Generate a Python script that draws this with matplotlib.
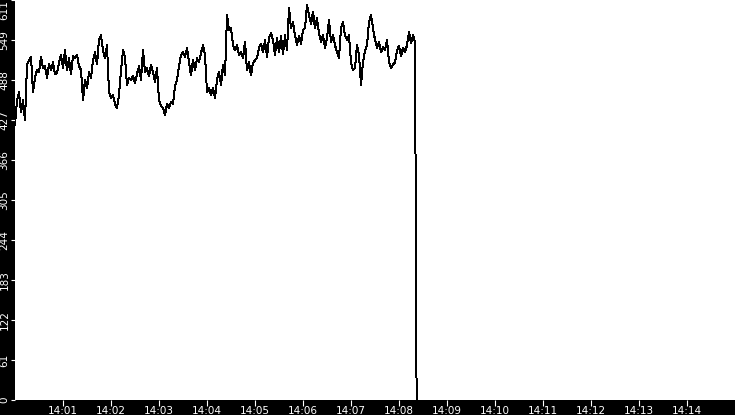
import matplotlib
matplotlib.use("Agg")
import matplotlib.pyplot as plt
import matplotlib.dates as mdates
import numpy as np
import pandas as pd

# samples every 2.5 s starting 14:00:00
start = pd.Timestamp("2024-01-01 14:00:00")
values = [
    420, 458, 470, 440, 458, 427, 512, 519, 524, 470,
    492, 504, 501, 524, 507, 510, 492, 513, 504, 516,
    498, 499, 515, 527, 507, 534, 504, 522, 498, 525,
    522, 527, 510, 504, 458, 489, 476, 501, 492, 519,
    531, 513, 550, 557, 534, 522, 542, 470, 461, 466,
    452, 446, 466, 504, 534, 524, 481, 492, 489, 495,
    484, 498, 510, 489, 534, 501, 507, 495, 512, 501,
    485, 507, 458, 449, 446, 435, 452, 446, 455, 452,
    479, 489, 510, 527, 531, 524, 538, 516, 496, 519,
    504, 522, 516, 530, 542, 527, 470, 476, 466, 476,
    461, 489, 501, 481, 512, 496, 588, 565, 568, 542,
    534, 542, 527, 531, 522, 547, 504, 516, 496, 515,
    519, 522, 538, 544, 531, 550, 524, 553, 560, 550,
    527, 553, 531, 556, 528, 557, 534, 599, 568, 577,
    557, 542, 556, 544, 565, 568, 603, 588, 574, 593,
    568, 583, 560, 547, 557, 538, 553, 580, 547, 557,
    542, 531, 522, 568, 577, 557, 550, 557, 516, 504,
    507, 542, 527, 481, 516, 534, 542, 577, 588, 568,
    550, 538, 547, 531, 539, 534, 550, 516, 507, 513,
    515, 534, 541, 525, 538, 531, 542, 562, 545, 557,
    547,
]
# final drop to zero right after the last sample
drop_values = [270, 0]

times = list(pd.date_range(start, periods=len(values), freq="2500ms"))
times += [times[-1] + pd.Timedelta(seconds=1), times[-1] + pd.Timedelta(seconds=2)]
series = values + drop_values

y_max = 611
y_ticks = np.linspace(0, y_max, 11)
y_labels = [str(int(v)) for v in y_ticks]
x_ticks = [start + pd.Timedelta(minutes=m) for m in range(1, 15)]

fig = plt.figure(figsize=(7.35, 4.15), dpi=100, facecolor="black")
ax = fig.add_axes([15 / 735, 15 / 415, 720 / 735, 400 / 415])
ax.set_facecolor("white")

ax.plot(times, series, color="black", linewidth=0.72, antialiased=False)

ax.set_xlim(start, start + pd.Timedelta(minutes=15))
ax.set_ylim(0, y_max)
ax.set_yticks(y_ticks)
ax.set_yticklabels(y_labels, rotation=90, va="center")
# keep the top label inside the figure
ax.get_yticklabels()[-1].set_va("top")
ax.set_xticks(x_ticks)
ax.xaxis.set_major_formatter(mdates.DateFormatter("%H:%M"))

ax.tick_params(axis="x", colors="white", labelsize=7.5, length=4, pad=0)
ax.tick_params(axis="y", colors="white", labelsize=7.5, length=3, pad=1)
for s in ax.spines.values():
    s.set_visible(False)

fig.savefig("out.png", dpi=100, facecolor="black")
